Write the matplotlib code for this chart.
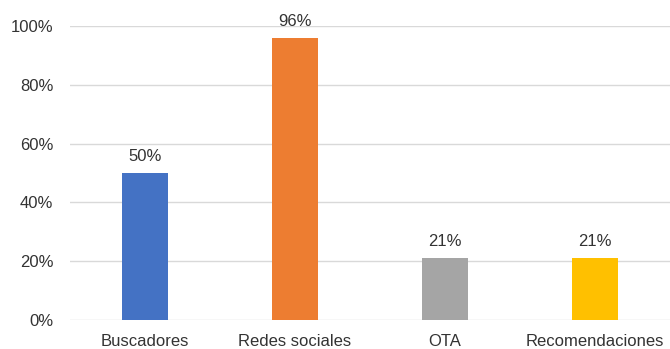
import matplotlib
matplotlib.use("Agg")

import matplotlib.pyplot as plt
from matplotlib.ticker import PercentFormatter

categories = ["Buscadores", "Redes sociales", "OTA", "Recomendaciones"]
values = [50, 96, 21, 21]
bar_colors = ["#4472C4", "#ED7D31", "#A5A5A5", "#FFC000"]
y_ticks = [0, 20, 40, 60, 80, 100]

plt.rcParams["font.family"] = ["Liberation Sans", "DejaVu Sans"]

fig = plt.figure(figsize=(6.7, 3.49), dpi=100)
ax = fig.add_axes([0.1045, 0.083, 0.8955, 0.8425])

x = range(len(categories))
bars = ax.bar(x, values, width=0.31, color=bar_colors, zorder=3)

for rect, v in zip(bars, values):
    ax.annotate(f"{v}%", (rect.get_x() + rect.get_width() / 2, v),
                xytext=(0, 6.5), textcoords="offset points",
                ha="center", va="bottom", fontsize=12, color="#333333")

ax.set_xlim(-0.5, len(categories) - 0.5)
ax.set_ylim(0, 100)
ax.set_yticks(y_ticks)
ax.yaxis.set_major_formatter(PercentFormatter(decimals=0))
ax.set_xticks(list(x))
ax.set_xticklabels(categories)

ax.grid(axis="y", color="#D9D9D9", linewidth=1, zorder=0)
for s in ax.spines.values():
    s.set_visible(False)
ax.tick_params(axis="both", length=0, labelsize=12, labelcolor="#333333")
ax.tick_params(axis="x", pad=10)
ax.tick_params(axis="y", pad=12)

fig.savefig("out.png", dpi=100)
